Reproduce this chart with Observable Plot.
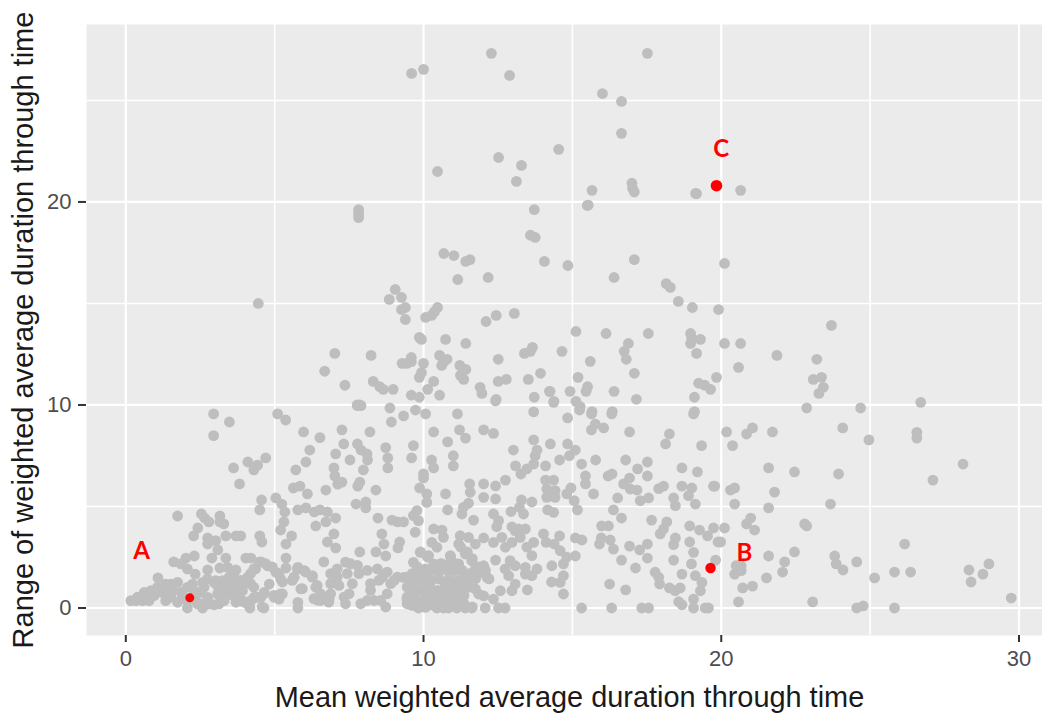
<!DOCTYPE html>
<html>
<head>
<meta charset="utf-8">
<style>html,body{margin:0;padding:0;background:#fff}svg{display:block}</style>
<script src="https://cdn.jsdelivr.net/npm/d3@7"></script>
<script src="https://cdn.jsdelivr.net/npm/@observablehq/plot@0.6"></script>
</head>
<body>
<div id="chart"></div>
<script>
const xTitle = "Mean weighted average duration through time";
const yTitle = "Range of weighted average duration through time";
const xTicks = [0, 10, 20, 30];
const yTicks = [0, 10, 20];
const xMinor = [5, 15, 25];
const yMinor = [5, 15, 25];
const highlighted = [[2.15, 0.5], [19.64, 1.97], [19.84, 20.8]];
const labelNames = ["A", "B", "C"];
const labelPositions = [[0.53, 2.78], [20.78, 2.68], [20.0, 22.6]];
const highlightRadius = [4.5, 5.2, 5.8];

const pointsLeft = [
[2.95,9.56],[3.48,9.16],[2.95,8.49],[5.1,9.56],[5.37,9.26],[5.97,8.67],[6.52,8.39],[7.26,8.77],[8.2,8.67],[7.78,9.97],[7.9,9.97],[8.87,9.85],[8.92,9.16],[9.33,9.46],
[6.18,7.78],[6.05,7.19],[5.71,6.8],[7.05,7.59],[7.32,8.08],[7.53,7.29],[7.78,8.08],[7.9,7.78],[8.1,7.59],[8.12,7.29],[7.98,6.8],[8.73,7.9],[8.8,7.39],[8.8,6.9],[6.99,6.9],[7.02,6.5],[7.12,6.1],[7.26,6.2],[7.86,6.2],[7.79,6.0],[8.4,5.81],[6.72,5.81],[5.63,5.91],[5.85,6.0],[6.1,5.62],
[3.62,6.9],[4.1,7.19],[4.43,7.04],[4.3,6.8],[4.7,7.39],[3.82,6.11],[4.56,5.32],[4.5,4.83],[5.04,5.42],[5.24,5.12],[5.34,4.73],[5.31,4.24],[5.2,3.84],[5.78,4.83],[6.05,4.93],[6.33,4.73],[6.52,4.83],[6.77,4.73],[7.05,4.43],[6.72,4.24],[6.38,4.04],[7.73,5.12],[8.06,5.22],[8.06,4.93],[8.47,4.43],[8.94,4.33],[9.13,4.24],[8.6,3.65],[6.99,3.65],[6.77,3.25],[7.05,2.96],[7.86,2.76],[8.4,2.76],[8.67,3.15],[8.73,2.56],[9.2,3.25],[9.14,2.96],[5.57,3.55],[5.38,3.15],[4.5,3.55],[4.57,3.25],
[1.74,4.53],[2.54,4.63],[2.65,4.43],[2.79,4.24],[3.16,4.53],[3.16,4.24],[3.29,4.14],[2.42,3.94],[2.28,3.55],[2.75,3.45],[2.75,3.15],[3.02,3.32],[3.36,3.55],[3.7,3.55],[3.86,3.55],[3.09,2.86],[2.89,2.46],[3.36,2.46],[4.03,2.46],[4.2,2.46],[5.38,2.46],[5.38,1.97],[6.65,2.27],[1.61,2.27],[2.02,2.46],[2.3,2.56],[1.85,2.17],[2.07,1.92],[2.33,1.67],[2.75,1.87],[3.16,1.97],[3.42,2.0],[3.7,1.87],[1.08,1.48],[4.54,2.27],[4.76,2.08],[5.04,1.76],[5.2,1.43],[4.3,1.92],[4.09,1.51],[5.26,0.69],[4.82,1.18],[4.65,0.77],[5.78,2.0],[6.0,1.84],[6.27,1.59],[5.65,1.51],[5.88,0.94],[6.38,1.02],[6.44,0.39],[6.83,0.44],[5.78,0.28],[5.78,0],[4.17,0],[4.64,0],[3.7,0.28],
[0.17,0.36],[0.34,0.36],[0.56,0.36],[0.62,0.77],[0.84,0.85],[0.78,0.36],[1.06,1.02],[1.34,1.18],[1.74,1.26],[1.34,0.36],[1.57,0.85],[1.85,0.77],[2.07,0],[2.07,0.36],[2.24,1.18],[2.58,0],[2.58,1.26],[2.97,1.26],[2.52,0.77],[2.75,0.52],[3.08,0.69],[3.3,1.02],[2.97,0.16],[2.41,0.2],[3.3,0.36],[3.53,1.18],[3.75,1.18],[3.92,0.85],[4.2,0.36],[3.98,0.28],[4.3,1.02],[4.42,0.52],
[0.39,0.53],[0.67,0.53],[0.95,0.61],[1.23,0.77],[1.51,0.53],[1.74,0.28],[1.9,0.61],[2.07,1.02],[2.3,0.85],[2.35,0.36],[2.58,0.2],[2.8,0.2],[3.13,0.2],[3.36,0.61],[2.63,1.02],[3.08,1.1],[3.53,0.69],[3.7,1.02],[3.98,1.18],[3.47,1.51],[3.64,1.51],[3.25,1.35],[2.74,1.43],[3.02,1.35],[3.81,0.36],[4.31,0.53],[4.54,0.53],[4.98,0.53],[5.15,0.44],[1.4,0.85],[1.51,1.18],
[3.63,1.69],[3.63,1.2],[3.63,0.62],[3.86,1.36],[3.86,0.87],[3.91,0.37],[4.19,1.69],[4.19,1.2],[4.14,0.13],[4.36,1.93],[4.47,2.26],[4.7,2.18],[4.92,2.02],[5.14,1.69],[5.26,1.28],[5.2,0.7],[4.98,0.62],[4.36,0.54],[4.58,0.05],[4.64,0.7],[5.65,1.52],[5.76,1.93],[6.04,1.77],[6.26,1.52],[5.93,0.95],[5.59,1.36],[6.43,1.11],[6.54,0.7],[6.32,0.46],[6.54,0.37],[6.82,0.29]
];

const pointsCentre = [
[9.73,9.75],[10.07,9.56],[11.14,9.56],[12.42,10.2],[13.7,9.66],[14.37,10.13],[14.84,9.36],[15.24,9.75],[15.64,9.56],[16.32,9.56],[19.07,9.56],[15.77,9.06],[15.64,8.77],[16.05,8.87],[16.92,8.67],[18.26,8.57],[18.13,8.08],[19.34,8.0],[10.34,8.67],[11.21,8.77],[11.41,8.37],[12.02,8.77],[12.35,8.6],[10.81,8.18],[9.66,8.0],[9.6,7.39],[11.0,7.5],[11.0,7.0],[10.27,7.29],[10.34,6.9],[10,6.6],[10,6.4],[9.87,5.91],[10.74,5.62],[10.11,5.62],[10.11,5.2],[9.78,4.8],[9.66,4.55],[9.83,4.3],[9.72,3.73],[9.33,4.24],[10.81,4.83],[11.68,4.33],[11.55,6.11],[11.57,5.7],[12.02,6.11],[12.02,5.45],[12.42,6.01],[12.42,5.37],[12.75,6.3],
[13.02,7.78],[13.7,8.28],[13.81,7.78],[13.75,7.5],[13.7,7.09],[13.47,6.85],[13.27,6.6],[13.09,7.0],[14.1,7.0],[14.26,8.08],[14.57,7.29],[14.84,8.08],[15.1,7.78],[14.9,7.5],[15.31,7.09],[15.78,7.29],[16.79,7.29],[17.52,7.19],[17.19,6.85],[17.52,6.5],[18.68,6.9],[19.2,6.7],[19.74,6.0],[15.44,6.5],[15.44,6.11],[16.2,6.5],[16.33,6.6],[16.92,6.4],[16.72,6.11],[16.94,5.86],[17.17,5.81],[17.28,5.29],[17.56,5.42],[18.06,6.0],[17.9,5.88],[18.68,6.0],[19.01,5.91],[18.9,5.53],[19.13,5.12],[18.4,5.42],[18.46,5.04],[16.52,5.42],[15.71,5.62],[14.95,5.91],[14.81,5.62],[15.06,5.29],[15.17,4.83],[14.1,6.3],[14.37,6.3],[14.14,5.86],[14.42,5.78],[14.14,5.45],[14.42,5.45],[13.64,5.22],[13.29,5.32],[13.22,4.96],[12.94,4.75],[13.36,4.63],[14.17,4.83],[14.37,4.71],
[16.38,4.83],[16.65,4.43],[17.66,4.33],[15.98,4.04],[16.21,4.04],[18.17,4.24],[18.06,3.89],[17.95,3.65],[18.94,4.04],[19.27,3.84],[19.54,3.55],[19.74,3.94],[18.46,3.45],[18.4,3.12],[18.94,3.25],[19.07,2.74],[19.89,3.25],[15.97,3.45],[16.27,3.35],[15.91,3.15],[16.38,2.9],[16.92,3.05],[17.26,2.86],[17.52,3.15],[17.52,2.46],[16.65,2.36],[17.12,1.97],[18.4,2.36],[19.0,2.17],[19.81,2.36],[18.68,1.67],[17.78,1.76],[17.93,1.18],[17.9,1.51],[16.25,1.18],[16.79,0.89],[18.26,0.99],[18.45,0.85],[18.62,0.99],[19.13,1.59],[19.35,1.26],[19.3,0.85],[19.07,0.44],[18.57,0.31],[18.68,0.16],[19.07,0],[19.46,0],[19.57,0],[17.33,0],[17.56,0],[16.32,0],[15.31,0],[14.7,0.69],[13.49,0.89],[14.3,1.28],[14.7,1.59],[14.59,1.26],
[14.03,3.65],[14.12,3.23],[14.57,3.55],[14.39,3.15],[14.59,2.82],[15.1,2.56],[14.81,2.5],[14.7,2.17],[14.31,2.08],[15.1,3.45],[15.32,3.35],[13.7,3.23],[13.47,3.0],[13.64,2.58],[12.97,4.0],[13.2,3.89],[13.42,3.89],[13.08,3.8],[13.25,3.48],[12.97,3.23],[12.75,2.99],[12.63,3.48],[12.35,3.23],[12.02,3.45],[11.74,3.15],[11.51,3.48],[11.23,3.56],[11.18,3.15],[11.4,2.66],[12.35,4.63],[12.52,4.3],[12.46,4.0],[11.29,4.63],[11.34,4.96],[11.51,5.16],[12.42,2.36],[12.91,2.33],[12.74,1.92],[13.08,2.08],[13.42,2.0],[12.86,1.59],[13.08,1.18],[12.97,0.85],[13.64,1.59],[13.81,1.92],[13.42,1.67],[12.58,0.85],[12.35,0.44],[12.02,0.6],[11.74,0.94],[12.07,0],[12.52,0],[12.74,0],[11.62,0],[11.4,0],[11.12,0],[10.84,0],[10.45,0],[9.83,0],
[10.34,3.89],[10.62,3.84],[10.67,3.48],[10.28,3.23],[10.45,2.99],[9.89,2.74],[9.66,2.25],[10.17,2.58],[10.34,2.17],[10.9,2.58],[10.62,2.17],[11.18,2.17],[11.62,2.33],[11.74,1.92],[12.02,2.08],[12.13,1.51],[11.96,1.76],[11.57,1.51],[11.34,1.51],[11.06,1.84],[10.84,1.84],[10.56,1.84],[10.28,1.84],[10.06,1.92],[9.83,1.67],[9.55,1.51],[9.33,1.51],[9.61,1.18],[10,1.35],[10.22,1.26],[10.5,1.43],[10.84,1.43],[11.12,1.35],[11.4,1.1],[11.18,0.94],[10.9,0.94],[10.62,0.85],[10.28,0.85],[9.94,0.85],[9.55,0.77],[9.44,0.44],[9.72,0.44],[10,0.36],[10.22,0.52],[10.5,0.36],[10.78,0.44],[11.06,0.36],[11.29,0.52],[9.55,0.2],[10.06,0.03],[10.67,0],[11.85,0.69],
[6.88,1.69],[7.1,1.93],[7.38,2.26],[7.55,2.18],[7.78,2.1],[8.11,1.85],[8.45,1.93],[8.78,1.77],[9.12,1.52],[6.88,1.2],[7.1,1.52],[7.44,1.69],[7.83,1.69],[6.88,0.7],[7.16,1.11],[7.33,0.54],[7.38,0.21],[7.61,1.2],[7.5,0.7],[7.89,0.21],[8.22,0.87],[8.11,0.37],[8.34,0.37],[8.22,1.2],[8.5,1.36],[8.78,0.7],[8.9,1.2],[8.62,1.52],[9.01,1.36],[8.73,0.05],[8.56,0.37],[9.45,1.52],[9.62,1.69],[9.79,2.02],[9.96,1.69],[10.13,1.85],[9.45,1.03],[9.51,0.54],[9.62,0.13],[10.07,0.87],[10.07,0.46],[10.13,0.13],[9.9,1.36],[9.9,0.13],
[9.9,2.76],[10.13,2.51],[9.9,1.85],[9.57,1.52],[9.45,0.54],[9.45,0.21],[9.68,1.36],[10.13,1.77],[10.24,1.36],[9.79,0.87],[10.46,0.87],[10.57,2.18],[10.91,2.51],[10.8,2.1],[11.08,2.18],[11.3,1.85],[11.25,3.0],[11.47,2.76],[11.64,2.43],[11.86,2.02],[12.08,1.85],[12.2,1.43],[11.53,1.69],[11.75,1.44],[11.53,1.03],[10.69,1.28],[10.91,1.11],[11.19,0.87],[11.36,0.62],[11.02,0.62],[10.69,0.54],[10.35,0.46],[10.07,0.46],[9.79,0.13],[10.07,0.13],[10.35,0.13],[10.74,0.13],[11.08,0.13],[11.36,0.21],[11.64,0.05]
];

const pointsRight = [
[22.87,9.85],[24.68,9.85],[26.7,10.13],[20.18,8.67],[20.85,8.57],[21.05,8.87],[21.72,8.67],[24.08,8.87],[26.57,8.65],[26.57,8.37],[24.96,8.28],[20.38,8.0],[21.59,6.9],[22.46,6.7],[23.94,6.6],[28.12,7.09],[27.11,6.3],[19.78,6.0],[20.31,5.81],[20.45,5.91],[21.79,5.71],[20.45,5.12],[21.59,4.93],[23.67,5.12],[20.99,4.43],[20.85,4.14],[21.12,3.84],[22.8,4.14],[22.87,4.04],[20.11,3.94],[19.98,3.25],[26.16,3.15],[22.46,2.76],[21.59,2.56],[22.13,2.27],[22.06,1.77],[21.52,1.48],[23.81,2.56],[23.86,2.17],[24.09,1.87],[24.55,2.27],[25.15,1.48],[25.82,1.77],[26.36,1.77],[28.32,1.87],[28.99,2.17],[28.79,1.67],[28.39,1.28],[29.74,0.49],[21.05,1.08],[20.72,0.99],[20.58,0.3],[23.07,0.3],[24.55,0],[24.77,0.1],[25.82,0],[20.5,2.08],[20.67,2.08],[20.45,1.67],[20.67,1.84],[20.56,2.0]
];

const pointsUpper = [
[7.82,19.62],[7.82,19.43],[7.82,19.23],[13.72,19.62],[13.59,18.36],[13.75,18.25],[14.06,17.07],[10.68,17.46],[11.02,17.36],[11.56,17.16],[11.42,17.07],[11.15,16.18],[12.17,16.28],[4.45,15.0],[9.05,15.69],[9.26,15.3],[8.85,15.2],[9.39,14.8],[9.26,14.7],[9.39,14.21],[10.07,14.31],[10.27,14.41],[10.37,14.6],[10.47,14.8],[12.1,14.11],[12.44,14.41],[13.05,14.51],[9.86,13.33],[9.93,13.23],[10.74,13.23],[11.42,13.03],[13.66,12.84],[13.59,12.64],[13.39,12.54],[12.51,12.25],[7.02,12.54],[8.24,12.44],[6.68,11.66],[7.36,10.97],[8.31,11.16],[8.53,10.9],[8.65,10.77],[8.98,10.77],[9.59,12.34],[9.59,12.13],[9.28,12.05],[9.44,12.05],[10,12.05],[9.93,11.59],[9.86,11.36],[10.34,11.16],[10.14,10.77],[9.59,10.48],[9.86,10.38],[10.54,10.48],[10.54,12.44],[10.79,12.25],[10.68,12.13],[10.61,11.95],[11.22,11.95],[11.42,11.75],[11.24,11.46],[11.35,11.26],[11.9,10.87],[11.96,10.57],[12.44,10.28],[12.51,11.16],[12.78,11.26],[13.52,11.26],[13.93,11.56],[13.72,10.38],[14.23,10.67],[7.77,10],[7.86,10],
[15.53,19.84],[15.66,20.57],[17.08,20.49],[19.17,20.41],[20.65,20.57],[14.85,16.87],[17.08,17.16],[20.11,16.97],[16.4,16.28],[18.15,15.98],[18.29,15.79],[18.56,15.1],[19.03,14.8],[19.91,14.7],[23.7,13.92],[15.12,13.62],[16.13,13.52],[17.55,13.52],[18.97,13.52],[18.97,13.03],[19.3,13.23],[19.01,13.28],[20.11,13.03],[20.65,13.03],[16.88,13.03],[16.74,12.64],[16.81,12.25],[19.17,12.54],[21.87,12.44],[23.21,12.25],[14.65,12.64],[15.6,12.15],[20.58,11.85],[17.08,11.56],[15.19,11.36],[19.84,11.36],[23.09,11.26],[23.37,11.36],[23.43,10.87],[23.28,10.57],[19.24,11.07],[19.44,10.98],[19.64,10.77],[14.25,10.67],[14.38,10.18],[14.92,10.67],[15.46,10.67],[15.51,10.9],[16.4,10.67],[17.15,10.28],[19.1,10.38],[15.12,10.18],[15.26,9.92],[15.66,9.67],[16.34,9.67],[19.1,9.67],
[12.28,27.32],[17.52,27.32],[9.6,26.33],[10.0,26.53],[12.89,26.23],[16.01,25.34],[16.65,24.95],[16.65,23.38],[14.54,22.59],[12.52,22.19],[13.29,21.8],[13.12,21.01],[10.47,21.5],[17.0,20.92],[17.02,20.67],[15.5,19.83],[19.14,20.42]
];

const greyPoints = [...pointsLeft, ...pointsCentre, ...pointsRight, ...pointsUpper];
const labels = labelNames.map((name, i) => ({name, x: labelPositions[i][0], y: labelPositions[i][1]}));

const chart = Plot.plot({
  width: 1042,
  height: 713,
  marginLeft: 86,
  marginRight: 0,
  marginTop: 24,
  marginBottom: 78,
  style: {background: "#fff", fontFamily: "'Liberation Sans', Arial, sans-serif"},
  x: {domain: [-1.32, 30.79]},
  y: {domain: [-1.355, 28.74]},
  marks: [
    Plot.frame({fill: "#ebebeb", stroke: null}),
    Plot.gridX(xMinor, {stroke: "#fff", strokeOpacity: 1, strokeWidth: 1.6}),
    Plot.gridY(yMinor, {stroke: "#fff", strokeOpacity: 1, strokeWidth: 1.6}),
    Plot.gridX(xTicks, {stroke: "#fff", strokeOpacity: 1, strokeWidth: 2.2}),
    Plot.gridY(yTicks, {stroke: "#fff", strokeOpacity: 1, strokeWidth: 2.2}),
    Plot.axisX({ticks: xTicks, label: null, tickSize: 7, tickPadding: 8, fontSize: 22, stroke: "#333", fill: "#4d4d4d", strokeWidth: 2}),
    Plot.axisY({ticks: yTicks, label: null, tickSize: 8, tickPadding: 7, fontSize: 22, stroke: "#333", fill: "#4d4d4d", strokeWidth: 2}),
    Plot.dot(greyPoints, {x: d => d[0], y: d => d[1], r: 5.4, fill: "#bebebe", stroke: null}),
    ...highlighted.map((p, i) => Plot.dot([p], {x: d => d[0], y: d => d[1], r: highlightRadius[i], fill: "#ff0000", stroke: null})),
    Plot.text(labels, {x: "x", y: "y", text: "name", fill: "#ff0000", fontWeight: "bold", fontSize: 24, fontFamily: "Lato, 'Open Sans', sans-serif"}),
    Plot.text([xTitle], {frameAnchor: "bottom", lineAnchor: "middle", dx: 5, dy: 62, fontSize: 28.9, fill: "#1a1a1a"}),
    Plot.text([yTitle], {frameAnchor: "left", textAnchor: "middle", rotate: -90, dx: -63, fontSize: 29, fill: "#1a1a1a"})
  ]
});
document.getElementById("chart").appendChild(chart);
</script>
</body>
</html>
